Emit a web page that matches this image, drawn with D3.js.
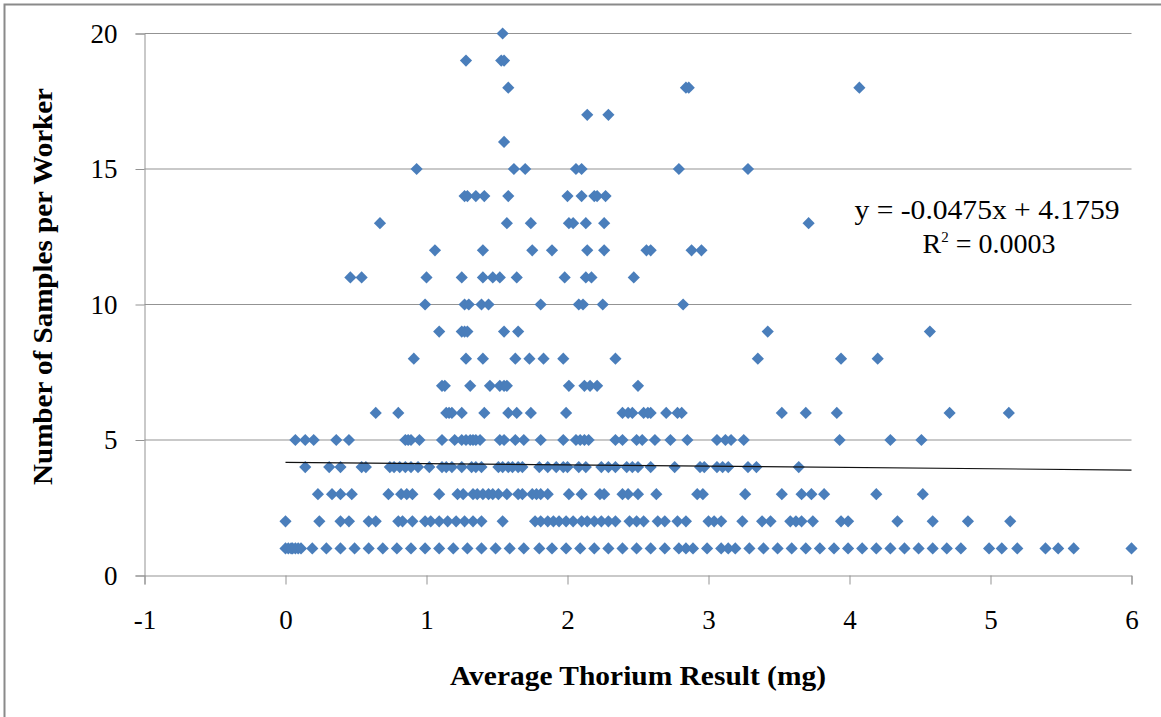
<!DOCTYPE html>
<html>
<head>
<meta charset="utf-8">
<script src="https://cdn.jsdelivr.net/npm/d3@7"></script>
<style>
  html, body { margin: 0; padding: 0; background: #fff; }
  svg { display: block; }
</style>
</head>
<body>
<script>
// Average thorium result (mg) of each worker, grouped by samples per worker
const avg1 = [0.00, 0.02, 0.04, 0.05, 0.07, 0.09, 0.11, 0.19, 0.29, 0.39, 0.49, 0.59, 0.69, 0.79, 0.89, 0.99, 1.09, 1.19, 1.29, 1.39, 1.49, 1.59, 1.69, 1.80, 1.89,
              1.99, 2.09, 2.19, 2.29, 2.39, 2.49, 2.59, 2.69, 2.79, 2.84, 2.89, 2.99, 3.09, 3.14, 3.19, 3.29, 3.39, 3.49, 3.59, 3.69, 3.79, 3.89,
              3.99, 4.09, 4.19, 4.29, 4.39, 4.49, 4.59, 4.69, 4.79, 4.99, 5.08, 5.19, 5.39, 5.48, 5.59, 6.00];
const avg2 = [0.00, 0.24, 0.39, 0.45, 0.59, 0.64, 0.80, 0.83, 0.90, 0.99, 1.03, 1.09, 1.15, 1.21, 1.27, 1.33, 1.39, 1.54, 1.77, 1.81, 1.86, 1.90, 1.94,
              1.99, 2.04, 2.10, 2.14, 2.19, 2.24, 2.29, 2.34, 2.44, 2.49, 2.54, 2.64, 2.69, 2.78, 2.84, 3.00, 3.04, 3.09, 3.24, 3.38, 3.44,
              3.58, 3.62, 3.66, 3.74, 3.94, 3.99, 4.34, 4.59, 4.84, 5.14];
const avg3 = [0.23, 0.33, 0.39, 0.47, 0.73, 0.82, 0.86, 0.90, 1.09, 1.22, 1.26, 1.33, 1.36, 1.40, 1.44, 1.47, 1.51, 1.57, 1.65, 1.68, 1.75, 1.78,
              1.81, 1.86, 2.01, 2.10, 2.23, 2.26, 2.39, 2.43, 2.50, 2.63, 2.92, 2.96, 3.26, 3.52, 3.66, 3.73, 3.82, 4.19, 4.52];
const avg4 = [0.14, 0.31, 0.39, 0.54, 0.57, 0.74, 0.77, 0.81, 0.85, 0.89, 0.94, 1.02, 1.11, 1.14, 1.18, 1.25, 1.32, 1.35, 1.39, 1.51, 1.54, 1.58,
              1.61, 1.65, 1.68, 1.80, 1.86, 1.92, 1.97, 2.00, 2.08, 2.13, 2.24, 2.29, 2.34, 2.42, 2.46, 2.50, 2.59, 2.76, 2.94, 2.97, 3.06,
              3.10, 3.14, 3.28, 3.34, 3.64];
const avg5 = [0.07, 0.14, 0.20, 0.36, 0.45, 0.85, 0.87, 0.89, 0.95, 1.11, 1.20, 1.25, 1.28, 1.31, 1.33, 1.35, 1.38, 1.52, 1.55, 1.63, 1.69, 1.81,
              1.97, 2.06, 2.09, 2.12, 2.15, 2.34, 2.39, 2.49, 2.53, 2.62, 2.73, 2.85, 3.06, 3.12, 3.16, 3.25, 3.93, 4.29, 4.51];
const avg6 = [0.64, 0.80, 1.14, 1.16, 1.18, 1.25, 1.41, 1.58, 1.64, 1.74, 1.99, 2.39, 2.43, 2.46, 2.54, 2.57, 2.59, 2.70, 2.78, 2.81, 3.52, 3.69,
              3.91, 4.71, 5.13];
const avg7 = [1.11, 1.13, 1.31, 1.45, 1.52, 1.55, 1.57, 2.01, 2.12, 2.16, 2.21, 2.50];
const avg8 = [0.91, 1.28, 1.40, 1.63, 1.73, 1.83, 1.97, 2.34, 3.35, 3.94, 4.20];
const avg9 = [1.09, 1.25, 1.27, 1.29, 1.55, 1.65, 3.42, 4.57];
const avg10 = [0.99, 1.27, 1.30, 1.39, 1.44, 1.81, 2.08, 2.11, 2.25, 2.82];
const avg11 = [0.46, 0.54, 1.00, 1.25, 1.40, 1.47, 1.52, 1.64, 1.98, 2.13, 2.17, 2.47];
const avg12 = [1.06, 1.40, 1.75, 1.89, 2.14, 2.26, 2.56, 2.59, 2.88, 2.95];
const avg13 = [0.67, 1.57, 1.74, 2.01, 2.04, 2.13, 2.26, 3.71];
const avg14 = [1.27, 1.29, 1.35, 1.41, 1.58, 2.00, 2.10, 2.19, 2.21, 2.27];
const avg15 = [0.93, 1.62, 1.70, 2.06, 2.10, 2.79, 3.28];
const avg16 = [1.55];
const avg17 = [2.14, 2.29];
const avg18 = [1.58, 2.84, 2.86, 4.07];
const avg19 = [1.28, 1.53, 1.55];
const avg20 = [1.54];

const samplesPerWorker = [1, 2, 3, 4, 5, 6, 7, 8, 9, 10, 11, 12, 13, 14, 15, 16, 17, 18, 19, 20];
const averagesBySamples = [avg1, avg2, avg3, avg4, avg5, avg6, avg7, avg8, avg9, avg10,
                           avg11, avg12, avg13, avg14, avg15, avg16, avg17, avg18, avg19, avg20];

// Linear trend line
const trendSlope = -0.0475;
const trendIntercept = 4.1759;
const trendRange = [0, 6];
const trendLabel = "y = -0.0475x + 4.1759";
const rSquaredValue = "0.0003";

const xTicks = [-1, 0, 1, 2, 3, 4, 5, 6];
const yTicks = [0, 5, 10, 15, 20];
const xTitle = "Average Thorium Result (mg)";
const yTitle = "Number of Samples per Worker";

const W = 1161, H = 717;
const plotLeft = 144.5, plotRight = 1131.5, plotTop = 33.5, plotBottom = 575.5;
const serif = "'Liberation Serif', 'Times New Roman', serif";
const gridColor = "#939393";
const markerColor = "#4a7ebb";

const points = [];
samplesPerWorker.forEach((n, i) => averagesBySamples[i].forEach(v => points.push({ x: v, y: n })));

const svg = d3.select("body").append("svg").attr("width", W).attr("height", H);

// outer chart frame
svg.append("path")
  .attr("d", `M4.5,${H} V4.5 H${W}`)
  .attr("fill", "none").attr("stroke", "#8a8a8a").attr("stroke-width", 2);

const x = d3.scaleLinear().domain([-1, 6]).range([plotLeft, plotRight]);
const y = d3.scaleLinear().domain([0, 20]).range([plotBottom, plotTop]);

// horizontal gridlines
svg.append("g")
  .selectAll("line").data(yTicks.filter(t => t > 0)).join("line")
  .attr("x1", plotLeft).attr("x2", plotRight)
  .attr("y1", d => y(d)).attr("y2", d => y(d))
  .attr("stroke", gridColor).attr("stroke-width", 1);

// y axis
const yAxis = svg.append("g")
  .attr("transform", `translate(${plotLeft},0)`)
  .call(d3.axisLeft(y).tickValues(yTicks).tickSize(9).tickPadding(18).tickFormat(d => String(d)));
yAxis.select(".domain").attr("stroke", gridColor);
yAxis.selectAll(".tick line").attr("stroke", gridColor);
yAxis.selectAll(".tick text")
  .attr("font-family", serif).attr("font-size", 27).attr("fill", "#000");

// x axis
const xAxis = svg.append("g")
  .attr("transform", `translate(0,${plotBottom})`)
  .call(d3.axisBottom(x).tickValues(xTicks).tickSize(9).tickPadding(25).tickFormat(d => String(d)));
xAxis.select(".domain").attr("stroke", gridColor);
xAxis.selectAll(".tick line").attr("stroke", gridColor);
xAxis.selectAll(".tick text")
  .attr("font-family", serif).attr("font-size", 27).attr("fill", "#000");

// data markers
const diamond = d3.symbol().type(d3.symbolSquare).size(74);
svg.append("g")
  .selectAll("path").data(points).join("path")
  .attr("d", diamond)
  .attr("transform", d => `translate(${x(d.x)},${y(d.y)}) rotate(45)`)
  .attr("fill", markerColor);

// trend line
svg.append("line")
  .attr("x1", x(trendRange[0])).attr("y1", y(trendIntercept + trendSlope * trendRange[0]))
  .attr("x2", x(trendRange[1])).attr("y2", y(trendIntercept + trendSlope * trendRange[1]))
  .attr("stroke", "#111").attr("stroke-width", 1.2);

// trend equation
svg.append("text")
  .attr("x", 987).attr("y", 219).attr("text-anchor", "middle")
  .attr("font-family", serif).attr("font-size", 28).attr("fill", "#000")
  .attr("textLength", 265).attr("lengthAdjust", "spacingAndGlyphs")
  .text(trendLabel);
const r2 = svg.append("text")
  .attr("x", 989).attr("y", 253).attr("text-anchor", "middle")
  .attr("font-family", serif).attr("font-size", 28).attr("fill", "#000");
r2.append("tspan").text("R");
r2.append("tspan").attr("font-size", 15).attr("dy", -11).text("2");
r2.append("tspan").attr("dy", 11).text(" = " + rSquaredValue);

// axis titles
svg.append("text")
  .attr("x", (plotLeft + plotRight) / 2).attr("y", 685).attr("text-anchor", "middle")
  .attr("font-family", serif).attr("font-weight", "bold").attr("font-size", 27)
  .attr("textLength", 376).attr("lengthAdjust", "spacingAndGlyphs")
  .text(xTitle);
svg.append("text")
  .attr("transform", `translate(52,${(plotTop + plotBottom) / 2 - 18}) rotate(-90)`)
  .attr("text-anchor", "middle")
  .attr("font-family", serif).attr("font-weight", "bold").attr("font-size", 27)
  .attr("textLength", 397).attr("lengthAdjust", "spacingAndGlyphs")
  .text(yTitle);
</script>
</body>
</html>
